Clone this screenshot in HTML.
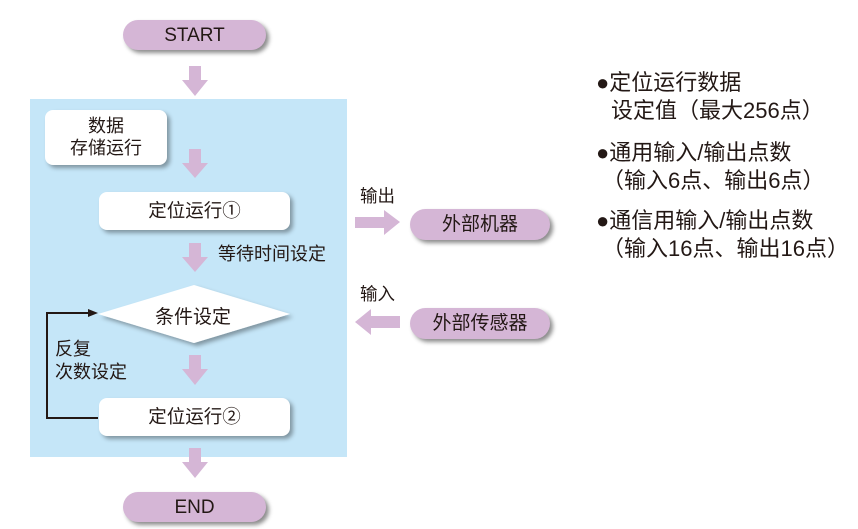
<!DOCTYPE html>
<html><head><meta charset="utf-8"><style>
body{margin:0;width:858px;height:529px;background:#fff;position:relative;overflow:hidden;font-family:"Liberation Sans","Noto Sans CJK SC",sans-serif;color:#231815}
.a{position:absolute}
.pill{position:absolute;background:#d5b6d6;border-radius:16px;box-shadow:3px 3px 4px rgba(0,0,0,.45);text-align:center;font-size:19px}
.box{position:absolute;background:#fff;border-radius:8px;box-shadow:3px 3px 4px rgba(0,0,0,.35);text-align:center;font-size:18.5px}
.t{position:absolute;font-size:18px;white-space:nowrap}
.r{position:absolute;font-size:22px;white-space:nowrap;left:596px}
</style></head><body>
<div class="a" style="left:30px;top:99px;width:317px;height:358px;background:#c5e6f8"></div>
<div class="pill" style="left:123px;top:20px;width:143px;height:30px;line-height:31px">START</div>
<div class="pill" style="left:123px;top:492px;width:143px;height:30px;line-height:31px">END</div>
<div class="box" style="left:45px;top:110px;width:122px;height:55px;line-height:22px;padding-top:5px;box-sizing:border-box;font-size:18px">数据<br>存储运行</div>
<div class="box" style="left:99px;top:192px;width:191px;height:38px;line-height:38px">定位运行①</div>
<div class="box" style="left:99px;top:398px;width:191px;height:38px;line-height:38px">定位运行②</div>
<svg class="a" style="left:0;top:0" width="858" height="529">
<defs><filter id="s"><feDropShadow dx="3" dy="3" stdDeviation="2" flood-opacity=".35"/></filter></defs>
<polygon points="98,314 194,285 290,314 194,343" fill="#fff" filter="url(#s)"/>
<g fill="#d5b6d6">
<polygon points="189,66 201,66 201,80 208,80 195,96 182,80 189,80"/>
<polygon points="189,149 201,149 201,163 208,163 195,178 182,163 189,163"/>
<polygon points="189,243 201,243 201,257 208,257 195,272 182,257 189,257"/>
<polygon points="189,355 201,355 201,369 208,369 195,385 182,369 189,369"/>
<polygon points="189,448 201,448 201,462 208,462 195,478 182,462 189,462"/>
<polygon points="355,217 384,217 384,210 400,222 384,235 384,228 355,228"/>
<polygon points="400,316 371,316 371,309 355,322 371,335 371,328 400,328"/>
</g>
<polyline points="98,418 47,418 47,313 88,313" fill="none" stroke="#231815" stroke-width="2"/>
<polygon points="98,313 88,309 88,317" fill="#231815"/>
</svg>
<div class="t" style="left:155px;top:302px;font-size:19px">条件设定</div>
<div class="t" style="left:218px;top:240px">等待时间设定</div>
<div class="t" style="left:55px;top:338px;line-height:23px">反复<br>次数设定</div>
<div class="t" style="left:360px;top:183px;font-size:17.5px">输出</div>
<div class="t" style="left:360px;top:281px;font-size:17.5px">输入</div>
<div class="pill" style="left:410px;top:209px;width:140px;height:31px;line-height:31px;font-size:19px">外部机器</div>
<div class="pill" style="left:410px;top:308px;width:140px;height:31px;line-height:31px;font-size:19px">外部传感器</div>
<div class="r" style="top:65px">●定位运行数据</div>
<div class="r" style="top:93px;left:611px">设定值（最大256点）</div>
<div class="r" style="top:135px">●通用输入/输出点数</div>
<div class="r" style="top:163px;left:602px">（输入6点、输出6点）</div>
<div class="r" style="top:203px">●通信用输入/输出点数</div>
<div class="r" style="top:231px;left:602px">（输入16点、输出16点）</div>
</body></html>
